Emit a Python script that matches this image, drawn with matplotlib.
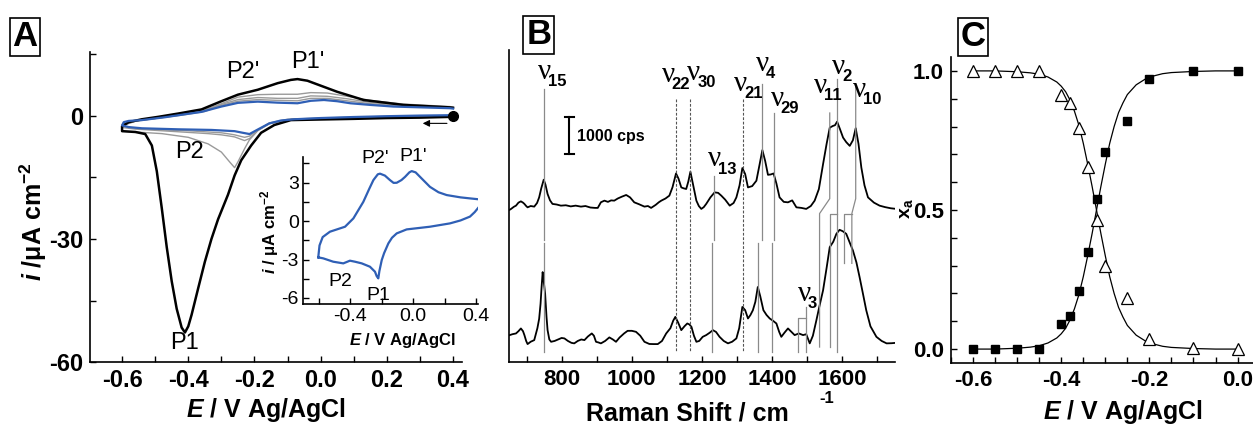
import numpy as np
import matplotlib
matplotlib.use("Agg")
import matplotlib.pyplot as plt
from matplotlib.ticker import MultipleLocator, FormatStrFormatter

plt.rcParams['font.family'] = ['Liberation Sans', 'DejaVu Sans']
plt.rcParams['font.weight'] = 'bold'
plt.rcParams['axes.labelweight'] = 'bold'
plt.rcParams['axes.unicode_minus'] = False
plt.rcParams['mathtext.fontset'] = 'custom'
plt.rcParams['mathtext.rm'] = 'Liberation Sans:bold'
plt.rcParams['mathtext.it'] = 'Liberation Sans:italic:bold'
plt.rcParams['mathtext.bf'] = 'Liberation Sans:bold'

BLUE = '#2f5fb5'
GRAY = '#9a9a9a'

# ---------------- panel A : cyclic voltammograms ----------------
E_black = [0.40, 0.30, 0.20, 0.10, 0.00, -0.09, -0.14, -0.18, -0.21, -0.24, -0.26, -0.28,
           -0.31, -0.33, -0.35, -0.37, -0.39, -0.40, -0.41, -0.42, -0.435, -0.45, -0.465,
           -0.48, -0.495, -0.51, -0.53, -0.56, -0.60, -0.60, -0.58, -0.54, -0.49, -0.43,
           -0.36, -0.30, -0.25, -0.19, -0.13, -0.09, -0.07, -0.04, 0.00, 0.05, 0.13, 0.25,
           0.39, 0.40]
i_black = [-0.2, -0.4, -0.5, -0.7, -0.85, -1.0, -2.2, -4.1, -7.2, -10.8, -14.5, -19.2,
           -25.2, -30.0, -35.6, -42.0, -48.5, -51.3, -52.8, -51.6, -47.0, -40.3, -32.0,
           -22.5, -13.5, -7.2, -4.4, -3.9, -3.7, -2.5, -1.5, -0.8, -0.2, 0.6,
           1.6, 3.6, 5.2, 6.4, 8.0, 8.8, 9.0, 8.6, 7.4, 5.9, 3.9, 2.7,
           2.1, 2.0]

E_gray = [0.40, 0.20, 0.00, -0.10, -0.155, -0.19, -0.215, -0.23, -0.25, -0.26, -0.275, -0.30,
          -0.34, -0.40, -0.48, -0.56, -0.60, -0.60, -0.56, -0.50, -0.42, -0.35, -0.30, -0.25,
          -0.19, -0.13, -0.07, -0.03, 0.02, 0.08, 0.15, 0.25, 0.39, 0.40]
i_gray1 = [-0.1, -0.3, -0.7, -1.0, -1.9, -3.6, -5.8, -8.0, -11.2, -12.6, -11.2, -8.8,
           -6.8, -5.2, -4.3, -3.9, -3.7, -2.4, -1.3, -0.6, 0.4, 1.5, 3.0, 4.6,
           5.2, 5.3, 5.3, 5.7, 5.6, 4.8, 3.8, 2.9, 2.3, 2.2]
i_gray2 = [0.0, -0.2, -0.6, -0.9, -1.8, -3.5, -5.5, -6.0, -5.4, -5.1, -4.9, -4.6,
           -4.3, -4.0, -3.6, -3.2, -2.8, -2.2, -1.2, -0.6, 0.3, 1.3, 2.8, 4.0,
           4.5, 4.3, 4.3, 4.9, 4.8, 4.2, 3.3, 2.6, 2.1, 2.0]
i_gray3 = [0.1, -0.1, -0.5, -0.8, -1.7, -3.4, -4.9, -5.2, -4.8, -4.6, -4.4, -4.1,
           -3.9, -3.6, -3.4, -3.0, -2.6, -2.1, -1.2, -0.6, 0.2, 1.1, 2.6, 3.6,
           4.0, 3.8, 3.7, 4.3, 4.3, 3.7, 3.0, 2.4, 2.0, 1.9]

E_blue = [0.40, 0.30, 0.20, 0.10, 0.00, -0.08, -0.12, -0.155, -0.19, -0.215, -0.235, -0.26,
          -0.33, -0.43, -0.54, -0.58, -0.60, -0.595, -0.58, -0.54, -0.47, -0.42, -0.36,
          -0.30, -0.25, -0.19, -0.13, -0.07, -0.03, 0.01, 0.05, 0.09, 0.15, 0.22, 0.39, 0.40]
i_blue = [0.2, 0.1, -0.05, -0.25, -0.5, -0.8, -1.1, -1.8, -3.3, -4.4, -4.1, -3.7,
          -3.4, -3.25, -3.0, -2.7, -2.3, -1.5, -1.2, -1.0, -0.3, 0.3, 1.0,
          2.3, 3.2, 3.5, 3.25, 3.1, 3.7, 3.9, 3.6, 3.1, 2.7, 2.3, 1.9, 1.8]

# inset: last scan
E_inset = [-0.603, -0.595, -0.575, -0.529, -0.433, -0.38, -0.317, -0.28, -0.253, -0.225, -0.211,
           -0.18, -0.148, -0.125, -0.105, -0.075, -0.052, -0.025, -0.01, 0.015, 0.043, 0.106,
           0.16, 0.212, 0.30, 0.36, 0.43, 0.43, 0.39, 0.36, 0.30, 0.233, 0.106, -0.042, -0.105,
           -0.135, -0.158, -0.185, -0.2, -0.215, -0.222, -0.232, -0.243, -0.275, -0.327, -0.37,
           -0.402, -0.444, -0.508, -0.571, -0.603]
i_inset = [-2.83, -1.9, -1.25, -0.83, -0.44, 0.21, 1.5, 2.5, 3.2, 3.65, 3.7,
           3.55, 3.2, 2.98, 2.99, 3.2, 3.45, 3.8, 3.9, 3.8, 3.45, 2.67,
           2.25, 2.03, 1.85, 1.77, 1.68, 1.3, 0.7, 0.35, 0.05, -0.18, -0.44, -0.65, -0.96,
           -1.3, -1.74, -2.5, -3.04, -3.9, -4.47, -4.3, -3.95, -3.56, -3.3, -3.17,
           -3.09, -3.3, -3.17, -2.91, -2.83]

# ---------------- panel B : Raman spectra ----------------
w_top = [652, 656, 664, 670, 677, 684, 690, 694, 699, 703, 712, 722, 730, 736, 742, 749, 754,
         760, 767, 774, 786, 798, 812, 826, 840, 855, 868, 882, 895, 903, 912, 922, 932, 941,
         950, 960, 972, 984, 995, 1007, 1020, 1036, 1046, 1055, 1068, 1077, 1084, 1096, 1107,
         1116, 1126, 1133, 1141, 1148, 1155, 1161, 1167, 1175, 1184, 1191, 1198, 1205, 1212,
         1224, 1236, 1246, 1255, 1266, 1279, 1290, 1298, 1307, 1315, 1323, 1331, 1343, 1355,
         1364, 1372, 1380, 1388, 1396, 1404, 1412, 1421, 1433, 1445, 1457, 1469, 1483, 1497,
         1510, 1521, 1533, 1545, 1555, 1564, 1573, 1579, 1585, 1593, 1602, 1611, 1621, 1630,
         1638, 1646, 1654, 1663, 1673, 1690, 1706, 1722, 1738, 1754]
c_top = [4050, 4073, 4130, 4160, 4240, 4274, 4240, 4206, 4150, 4115, 4150, 4134, 4230, 4380,
         4620, 4850, 4720, 4470, 4300, 4206, 4190, 4160, 4170, 4140, 4160, 4134, 4150, 4110,
         4100, 4100, 4250, 4293, 4260, 4300, 4293, 4350, 4400, 4444, 4380, 4248, 4200, 4134,
         4150, 4100, 4180, 4250, 4293, 4350, 4426, 4650, 5016, 4880, 4645, 4620, 4603, 4800,
         5062, 4700, 4293, 4150, 4073, 4120, 4206, 4380, 4513, 4500, 4426, 4320, 4160, 4230,
         4380, 4700, 5160, 5000, 4645, 4680, 4823, 5250, 5637, 5350, 4980, 4990, 5016, 4750,
         4380, 4260, 4248, 4300, 4115, 4100, 4073, 4150, 4293, 4600, 5266, 5800, 6235, 6280,
         6300, 6394, 6200, 5970, 5850, 5750, 5900, 6220, 5800, 5175, 4700, 4380, 4240, 4160,
         4120, 4090, 4073]

w_bot = [652, 660, 670, 677, 684, 690, 694, 699, 703, 712, 722, 731, 736, 740, 743, 746, 749,
         753, 757, 760, 765, 770, 780, 790, 800, 808, 818, 828, 836, 846, 856, 865, 875, 886,
         892, 898, 905, 912, 924, 936, 946, 955, 965, 978, 988, 1000, 1012, 1024, 1036, 1050,
         1062, 1074, 1086, 1098, 1110, 1118, 1124, 1132, 1141, 1150, 1158, 1164, 1170, 1177,
         1184, 1192, 1202, 1212, 1222, 1231, 1240, 1250, 1262, 1274, 1286, 1298, 1306, 1315,
         1323, 1331, 1338, 1345, 1352, 1359, 1366, 1375, 1384, 1393, 1402, 1412, 1420, 1426,
         1435, 1445, 1455, 1464, 1476, 1488, 1497, 1507, 1516, 1526, 1535, 1545, 1555, 1564,
         1574, 1583, 1592, 1601, 1611, 1620, 1630, 1640, 1649, 1659, 1668, 1680, 1697, 1712,
         1726, 1740, 1754]
c_bot = [716, 740, 760, 820, 893, 820, 716, 560, 477, 540, 583, 900, 1150, 1550, 2000, 2393,
         2150, 1820, 1200, 848, 600, 538, 560, 600, 640, 628, 560, 510, 496, 560, 600, 583, 680,
         760, 700, 538, 520, 496, 560, 655, 600, 538, 650, 760, 829, 830, 803, 700, 538, 480,
         477, 477, 560, 760, 900, 1100, 1200, 1050, 848, 950, 1025, 1000, 935, 700, 538, 560,
         670, 716, 780, 848, 800, 670, 560, 496, 540, 628, 900, 1465, 1380, 1158, 1250, 1378,
         1600, 1995, 1750, 1378, 1250, 1158, 1100, 1025, 800, 670, 780, 893, 800, 716, 760, 716,
         740, 496, 700, 1113, 1500, 1908, 2500, 3055, 3200, 3410, 3517, 3480, 3410, 3200, 2968,
         2650, 2260, 1800, 1378, 950, 670, 560, 496, 500, 511]

# band labels: name, label position (cm-1, cps)
bands = ['15', '22', '30', '21', '4', '29', '13', '11', '2', '10', '3']
band_x = [750, 1104, 1177, 1310, 1371, 1414, 1236, 1538, 1589, 1649, 1492]
band_y = [7712, 7645, 7698, 7407, 7924, 7009, 5393, 7340, 7844, 7248, 1815]

# dashed lines (both spectra)
dashed_w = [1126, 1167, 1316]
# solid lines: (w top, top from, w bottom)
solid_w_top = [751, 1233, 1372, 1404]
solid_top_from = [7261, 4956, 7394, 6625]
solid_w_bot = [749, 1229, 1359, 1400]

# ---------------- panel C : mole fraction ----------------
E_sq = [-0.60, -0.55, -0.50, -0.45, -0.40, -0.38, -0.36, -0.34, -0.32, -0.30, -0.25, -0.20, -0.10, 0.00]
x_sq = [0.0, 0.0, 0.0, 0.0, 0.09, 0.12, 0.21, 0.35, 0.54, 0.71, 0.82, 0.97, 1.0, 1.0]
E_tri = [-0.60, -0.55, -0.50, -0.45, -0.40, -0.38, -0.36, -0.34, -0.32, -0.30, -0.25, -0.20, -0.10, 0.00]
x_tri = [1.0, 1.0, 1.0, 1.0, 0.915, 0.885, 0.795, 0.655, 0.465, 0.30, 0.185, 0.035, 0.005, 0.0]

E_fit = [-0.60, -0.55, -0.50, -0.47, -0.45, -0.43, -0.41, -0.40, -0.39, -0.38, -0.37, -0.36, -0.35,
         -0.34, -0.33, -0.32, -0.31, -0.30, -0.29, -0.28, -0.27, -0.26, -0.25, -0.23, -0.21, -0.19,
         -0.17, -0.15, -0.10, -0.05, 0.0]
fit_up = [0.000, 0.000, 0.003, 0.007, 0.012, 0.022, 0.040, 0.055, 0.075, 0.105, 0.145, 0.195, 0.26,
          0.335, 0.415, 0.500, 0.585, 0.665, 0.74, 0.80, 0.85, 0.885, 0.915, 0.950, 0.970, 0.982,
          0.990, 0.994, 0.998, 1.0, 1.0]
fit_down = [1.0, 1.0, 0.997, 0.993, 0.988, 0.978, 0.960, 0.945, 0.925, 0.895, 0.855, 0.805, 0.74,
            0.665, 0.585, 0.500, 0.415, 0.335, 0.26, 0.20, 0.15, 0.115, 0.085, 0.050, 0.030, 0.018,
            0.010, 0.006, 0.002, 0.0, 0.0]

fig = plt.figure(figsize=(12.53, 4.25), dpi=100)


def style(ax):
    for s in ['top', 'right']:
        ax.spines[s].set_visible(False)
    for s in ['left', 'bottom']:
        ax.spines[s].set_linewidth(1.2)
    ax.tick_params(which='both', direction='in', width=1)
    ax.tick_params(which='major', length=4)
    ax.tick_params(which='minor', length=4)


def place_labels(ax, xpos, ypos):
    # put axis label centres at given axes-fraction positions
    ax.xaxis.set_label_coords(*xpos)
    ax.xaxis.label.set_verticalalignment('center')
    ax.yaxis.set_label_coords(*ypos)
    ax.yaxis.label.set_verticalalignment('center')


# ---- A
axA = fig.add_axes([0.0718, 0.1482, 0.2969, 0.7294])
style(axA)
axA.plot(E_gray, i_gray1, color=GRAY, lw=1.0)
axA.plot(E_gray, i_gray2, color=GRAY, lw=1.0)
axA.plot(E_gray, i_gray3, color=GRAY, lw=1.0)
axA.plot(E_black, i_black, color='black', lw=1.8)
axA.plot(E_blue, i_blue, color=BLUE, lw=1.6)
axA.plot([0.40], [0.0], 'o', color='black', ms=7, clip_on=False)
axA.annotate('', xy=(0.30, -1.8), xytext=(0.39, -1.8),
             arrowprops=dict(arrowstyle='-|>', color='black', lw=0.8, mutation_scale=10))
axA.set_xlim(-0.697, 0.427)
axA.set_ylim(-60, 15.6)
axA.xaxis.set_major_locator(MultipleLocator(0.2))
axA.xaxis.set_minor_locator(MultipleLocator(0.1))
axA.xaxis.set_major_formatter(FormatStrFormatter('%.1f'))
axA.yaxis.set_major_locator(MultipleLocator(30))
axA.yaxis.set_minor_locator(MultipleLocator(15))
axA.tick_params(labelsize=17, pad=5)
axA.set_xlabel(r'$E$ / V Ag/AgCl', fontsize=18)
axA.set_ylabel(r'$i$ /$\mathrm{\mu}$A cm$^{-2}$', fontsize=18)
place_labels(axA, (0.473, -0.155), (-0.153, 0.452))
for txt, x, y in [("P2'", -0.234, 10.7), ("P1'", -0.038, 13.2), ("P2", -0.396, -8.8), ("P1", -0.41, -55.4)]:
    axA.text(x, y, txt, fontsize=17, weight='normal', ha='center', va='center')

# ---- inset
axI = fig.add_axes([0.2418, 0.2847, 0.1397, 0.3459])
style(axI)
axI.patch.set_alpha(0)
axI.plot(E_inset, i_inset, color=BLUE, lw=1.6)
axI.set_xlim(-0.70, 0.411)
axI.set_ylim(-6.47, 5.0)
axI.xaxis.set_major_locator(MultipleLocator(0.4))
axI.xaxis.set_minor_locator(MultipleLocator(0.2))
axI.xaxis.set_major_formatter(FormatStrFormatter('%.1f'))
axI.yaxis.set_major_locator(MultipleLocator(3))
axI.yaxis.set_minor_locator(MultipleLocator(1.5))
axI.tick_params(labelsize=14, pad=3)
for lab in axI.get_xticklabels() + axI.get_yticklabels():
    lab.set_fontweight('normal')
axI.set_xlabel(r'$E$ / V Ag/AgCl', fontsize=12)
axI.set_ylabel(r'$i$ / $\mathrm{\mu}$A cm$^{-2}$', fontsize=12)
place_labels(axI, (0.566, -0.245), (-0.19, 0.49))
for txt, x, y in [("P2'", -0.243, 4.9), ("P1'", 0.002, 5.0), ("P2", -0.465, -4.73), ("P1", -0.221, -5.77)]:
    axI.text(x, y, txt, fontsize=14, weight='normal', ha='center', va='center')

# ---- B
axB = fig.add_axes([0.4062, 0.1482, 0.3081, 0.7341])
style(axB)
axB.plot(w_top, c_top, color='black', lw=1.3)
axB.plot(w_bot, c_bot, color='black', lw=1.3)
axB.set_xlim(650, 1750)
axB.set_ylim(0, 8300)
axB.set_yticks([])
axB.xaxis.set_major_locator(MultipleLocator(200))
axB.xaxis.set_minor_locator(MultipleLocator(100))
axB.tick_params(labelsize=16, pad=5)
axB.set_xlabel('Raman Shift / cm', fontsize=18)
place_labels(axB, (0.462, -0.165), (-0.05, 0.5))
axB.text(0.824, -0.118, '-1', transform=axB.transAxes, fontsize=12, ha='center', va='center')

lc = '#8a8a8a'
for w in dashed_w:
    axB.plot([w, w], [7000, 265], color='#555555', lw=0.8, ls=(0, (2.5, 1.5)))
for wt, yt, wb in zip(solid_w_top, solid_top_from, solid_w_bot):
    axB.plot([wt, wt], [yt, 3233], color=lc, lw=0.9)
    axB.plot([wb, wb], [3154, 265], color=lc, lw=0.9)
# correlation lines nu11 / nu2 / nu10
axB.plot([1564, 1564, 1535, 1535], [6625, 4346, 3949, 398], color=lc, lw=0.9)
axB.plot([1564, 1564, 1584], [398, 3949, 3949], color=lc, lw=0.9)
axB.plot([1584, 1584], [7526, 265], color=lc, lw=0.9)
axB.plot([1638, 1638, 1627, 1627], [7340, 4346, 3949, 2624], color=lc, lw=0.9)
axB.plot([1627, 1606, 1606], [3949, 3949, 2624], color=lc, lw=0.9)
# nu3 bracket
axB.plot([1473, 1473, 1495, 1495], [265, 1174, 1174, 265], color=lc, lw=0.9)
axB.plot([1495, 1495], [1174, 1457], color=lc, lw=0.9)

for name, x, y in zip(bands, band_x, band_y):
    axB.text(x, y, 'ν', family='Liberation Serif', fontsize=21,
             weight='normal', ha='center', va='center')
    axB.annotate(name, xy=(x, y), xytext=(2.5, -7), textcoords='offset points',
                 fontsize=12, ha='left', va='center')

# scale bar 1000 cps
axB.plot([822, 822], [5527, 6527], color='black', lw=1.5)
axB.plot([810, 834], [6527, 6527], color='black', lw=1.5)
axB.plot([810, 834], [5527, 5527], color='black', lw=1.5)
axB.text(843, 5990, '1000 cps', fontsize=11.5, ha='left', va='center')

# ---- C
axC = fig.add_axes([0.759, 0.1459, 0.241, 0.72])
style(axC)
axC.plot(E_fit, fit_up, color='black', lw=0.9)
axC.plot(E_fit, fit_down, color='black', lw=0.9)
axC.plot(E_sq, x_sq, 's', color='black', ms=6)
axC.plot(E_tri, x_tri, '^', mfc='white', mec='black', mew=0.9, ms=9)
axC.set_xlim(-0.65, 0.035)
axC.set_ylim(-0.05, 1.05)
axC.xaxis.set_major_locator(MultipleLocator(0.2))
axC.xaxis.set_minor_locator(MultipleLocator(0.05))
axC.xaxis.set_major_formatter(FormatStrFormatter('%.1f'))
axC.yaxis.set_major_locator(MultipleLocator(0.5))
axC.yaxis.set_minor_locator(MultipleLocator(0.1))
axC.yaxis.set_major_formatter(FormatStrFormatter('%.1f'))
axC.tick_params(labelsize=16, pad=5)
axC.set_xlabel(r'$E$ / V Ag/AgCl', fontsize=18)
axC.set_ylabel(r'x$_\mathrm{a}$', fontsize=14)
place_labels(axC, (0.57, -0.16), (-0.149, 0.503))

# panel letters
for letter, x, y in [('A', 0.020, 0.913), ('B', 0.430, 0.918), ('C', 0.7765, 0.913)]:
    fig.text(x, y, letter, fontsize=25, ha='center', va='center',
             bbox=dict(boxstyle='square,pad=0.08', fc='white', ec='black', lw=1.2))

fig.savefig('out.png', dpi=100)
